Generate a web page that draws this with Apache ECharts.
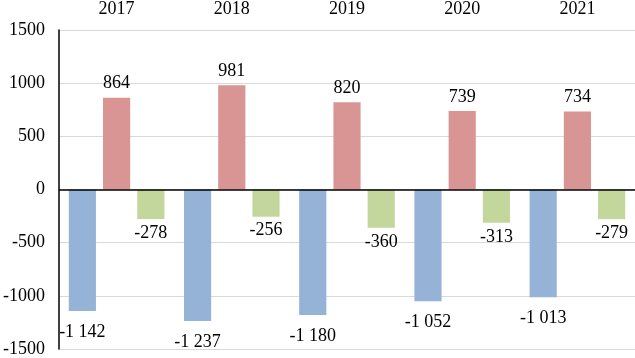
<!DOCTYPE html>
<html>
<head>
<meta charset="utf-8">
<script src="https://cdn.jsdelivr.net/npm/echarts@6/dist/echarts.min.js"></script>
<style>
  html, body { margin: 0; padding: 0; background: #fff; }
  #chart { width: 635px; height: 358px; }
</style>
</head>
<body>
<div id="chart"></div>
<script>
const years = ["2017", "2018", "2019", "2020", "2021"];
const blueValues = [-1142, -1237, -1180, -1052, -1013];
const redValues = [864, 981, 820, 739, 734];
const greenValues = [-278, -256, -360, -313, -279];

const font = "Liberation Serif";

// thousands separated by a space, like "-1 142"
function fmt(v) {
  const s = String(Math.abs(v)).replace(/\B(?=(\d{3})+(?!\d))/g, " ");
  return (v < 0 ? "-" : "") + s;
}

function barSeries(data, color, pos, dist) {
  return {
    type: "bar",
    data: data,
    barGap: "26%",
    barCategoryGap: "17%",
    itemStyle: { color: color },
    label: {
      show: true,
      position: pos,
      distance: dist,
      fontFamily: font,
      fontSize: 18,
      color: "#000",
      formatter: (p) => fmt(p.value),
    },
  };
}

const blue = barSeries(blueValues, "#95b3d7", "bottom", 12);
// black zero line
blue.markLine = {
  silent: true,
  symbol: "none",
  label: { show: false },
  lineStyle: { color: "#000", width: 1.5, type: "solid" },
  data: [{ yAxis: 0 }],
};

const chart = echarts.init(document.getElementById("chart"));
chart.setOption({
  animation: false,
  grid: { left: 59, right: 0, top: 29, bottom: 7, containLabel: false },
  xAxis: {
    type: "category",
    data: years,
    position: "top",
    axisLine: { show: false, onZero: false },
    axisTick: { show: false },
    axisLabel: { fontFamily: font, fontSize: 18, color: "#000", margin: 12 },
  },
  yAxis: {
    type: "value",
    min: -1500,
    max: 1500,
    interval: 500,
    axisLine: { show: true, lineStyle: { color: "#000", width: 1.5 } },
    axisTick: { show: false },
    splitLine: { lineStyle: { color: "#d9d9d9", width: 1 } },
    axisLabel: {
      fontFamily: font,
      fontSize: 18,
      color: "#000",
      margin: 14,
      formatter: (v) => String(v),
    },
  },
  series: [
    blue,
    barSeries(redValues, "#d99594", "top", 5),
    barSeries(greenValues, "#c3d69b", "bottom", 5),
  ],
});
</script>
</body>
</html>
